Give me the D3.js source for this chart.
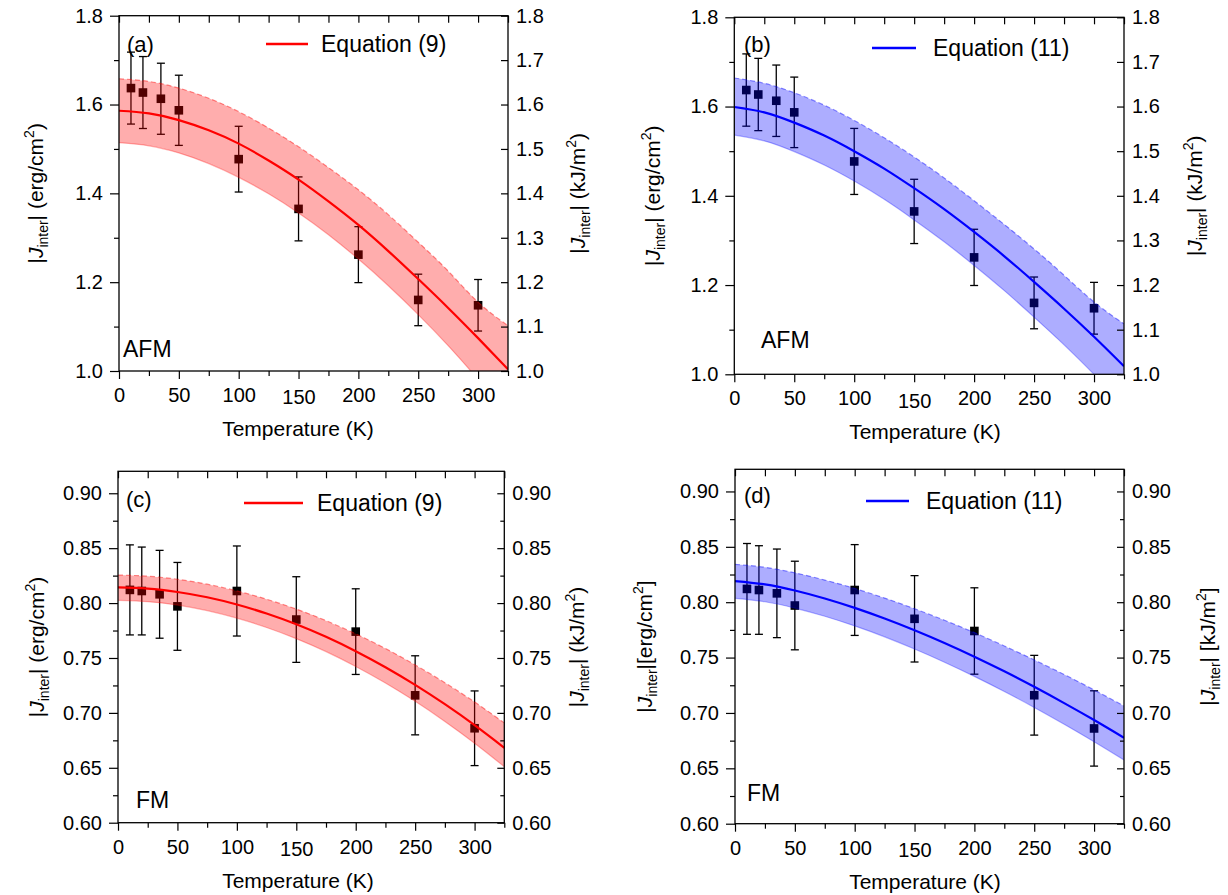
<!DOCTYPE html>
<html>
<head>
<meta charset="utf-8">
<script src="https://cdn.jsdelivr.net/npm/d3@7"></script>
<style>
  body { margin: 0; background: #fff; }
  svg { display: block; font-family: "Liberation Sans", Arial, Helvetica, sans-serif; }
</style>
</head>
<body>
<svg id="chart" width="1228" height="895"></svg>
<script>
// measured points (same set is plotted in a/b and in c/d)
const temps = [10, 20, 35, 50, 100, 150, 200, 250, 300]
const afmJ = [1.637, 1.627, 1.613, 1.587, 1.477, 1.365, 1.262, 1.160, 1.148]
const afmErr = [0.081, 0.081, 0.080, 0.079, 0.074, 0.072, 0.063, 0.058, 0.058]
const fmJ = [0.812, 0.811, 0.808, 0.797, 0.811, 0.785, 0.774, 0.716, 0.686]
const fmErr = [0.041, 0.040, 0.040, 0.040, 0.041, 0.039, 0.039, 0.036, 0.034]

// fitted curves
const curveT = [0, 25, 50, 75, 100, 125, 150, 175, 200, 225, 250, 275, 300, 325]
const fitA = [1.586, 1.580, 1.565, 1.542, 1.512, 1.474, 1.431, 1.382, 1.329, 1.270, 1.207, 1.142, 1.074, 1.004]
const upperA = [1.658, 1.652, 1.637, 1.614, 1.584, 1.547, 1.505, 1.458, 1.408, 1.352, 1.290, 1.225, 1.155, 1.102]
const lowerA = [1.514, 1.507, 1.491, 1.467, 1.436, 1.399, 1.356, 1.307, 1.252, 1.192, 1.127, 1.057, 0.981, 0.902]
const fitB = [1.599, 1.587, 1.564, 1.535, 1.500, 1.461, 1.417, 1.370, 1.319, 1.265, 1.207, 1.147, 1.084, 1.018]
const upperB = [1.664, 1.652, 1.631, 1.603, 1.569, 1.530, 1.487, 1.440, 1.389, 1.336, 1.281, 1.222, 1.162, 1.113]
const lowerB = [1.536, 1.523, 1.499, 1.469, 1.433, 1.392, 1.346, 1.297, 1.244, 1.188, 1.128, 1.066, 1.000, 0.932]
const fitC = [0.8143, 0.8132, 0.8101, 0.8053, 0.7987, 0.7905, 0.7807, 0.7693, 0.7562, 0.7416, 0.7255, 0.7079, 0.6888, 0.6682]
const upperC = [0.8255, 0.8245, 0.8217, 0.8172, 0.8111, 0.8035, 0.7945, 0.7840, 0.7720, 0.7586, 0.7437, 0.7275, 0.7099, 0.6909]
const lowerC = [0.8025, 0.8013, 0.7982, 0.7932, 0.7863, 0.7778, 0.7676, 0.7558, 0.7423, 0.7272, 0.7105, 0.6922, 0.6724, 0.6510]
const fitD = [0.8191, 0.8161, 0.8106, 0.8034, 0.7949, 0.7853, 0.7747, 0.7632, 0.7508, 0.7376, 0.7236, 0.7089, 0.6936, 0.6776]
const upperD = [0.8342, 0.8315, 0.8265, 0.8200, 0.8124, 0.8037, 0.7941, 0.7837, 0.7725, 0.7605, 0.7479, 0.7347, 0.7208, 0.7063]
const lowerD = [0.8035, 0.8004, 0.7947, 0.7873, 0.7786, 0.7687, 0.7577, 0.7458, 0.7330, 0.7194, 0.7050, 0.6898, 0.6740, 0.6575]

// ticks
const tempMajor = [0, 50, 100, 150, 200, 250, 300]
const tempMinor = [25, 75, 125, 175, 225, 275, 325]
const tempTop = [0, 25, 50, 75, 100, 125, 150, 175, 200, 225, 250, 275, 300, 325]
const afmLeftTicks = [1.0, 1.2, 1.4, 1.6, 1.8]
const afmLeftMinor = [1.1, 1.3, 1.5, 1.7]
const afmRightTicks = [1.0, 1.1, 1.2, 1.3, 1.4, 1.5, 1.6, 1.7, 1.8]
const fmTicks = [0.60, 0.65, 0.70, 0.75, 0.80, 0.85, 0.90]
const fmMinor = [0.625, 0.675, 0.725, 0.775, 0.825, 0.875]

const svg = d3.select('#chart')

const panels = [
    {
        id: 'a', box: { l: 119, r: 508, t: 15.7, b: 371 }, yDom: [1.0, 1.8],
        left: afmLeftTicks, leftMinor: afmLeftMinor, right: afmRightTicks, rightMinor: [], fmt: '.1f',
        J: afmJ, err: afmErr, fit: fitA, up: upperA, lo: lowerA, color: '#ff0000', band: '#ff0000',
        letter: '(a)', letterPos: [127, 52], eq: 'Equation (9)', legY: 44, legX: [266, 308], legText: [321, 52],
        tag: 'AFM', tagPos: [123, 357], xTitle: 298,
        lTitle: { x: 43, unit: ' (erg/cm', close: ')' }, rTitle: { x: 585, unit: ' (kJ/m', close: ')' },
    },
    {
        id: 'b', box: { l: 734.3, r: 1124, t: 17.3, b: 374.3 }, yDom: [1.0, 1.8],
        left: afmLeftTicks, leftMinor: afmLeftMinor, right: afmRightTicks, rightMinor: [], fmt: '.1f',
        J: afmJ, err: afmErr, fit: fitB, up: upperB, lo: lowerB, color: '#0000ff', band: '#0000ff',
        letter: '(b)', letterPos: [744, 52], eq: 'Equation (11)', legY: 48, legX: [872, 916], legText: [933, 56],
        tag: 'AFM', tagPos: [761, 348], xTitle: 925,
        lTitle: { x: 660, unit: ' (erg/cm', close: ')' }, rTitle: { x: 1202, unit: ' (kJ/m', close: ')' },
    },
    {
        id: 'c', box: { l: 118, r: 504.3, t: 471.3, b: 822.7 }, yDom: [0.60, 0.92],
        left: fmTicks, leftMinor: fmMinor, right: fmTicks, rightMinor: fmMinor, fmt: '.2f',
        J: fmJ, err: fmErr, fit: fitC, up: upperC, lo: lowerC, color: '#ff0000', band: '#ff0000',
        letter: '(c)', letterPos: [126, 507], eq: 'Equation (9)', legY: 503, legX: [244, 303], legText: [317, 511],
        tag: 'FM', tagPos: [136, 808], xTitle: 298,
        lTitle: { x: 44, unit: ' (erg/cm', close: ')' }, rTitle: { x: 584, unit: ' (kJ/m', close: ')' },
    },
    {
        id: 'd', box: { l: 735, r: 1124, t: 469.3, b: 823.7 }, yDom: [0.60, 0.92],
        left: fmTicks, leftMinor: fmMinor, right: fmTicks, rightMinor: fmMinor, fmt: '.2f',
        J: fmJ, err: fmErr, fit: fitD, up: upperD, lo: lowerD, color: '#0000ff', band: '#0000ff',
        letter: '(d)', letterPos: [744, 503], eq: 'Equation (11)', legY: 501, legX: [866, 909], legText: [926, 509],
        tag: 'FM', tagPos: [747, 801], xTitle: 925,
        lTitle: { x: 652, unit: '[erg/cm', close: ']' }, rTitle: { x: 1215, unit: ' [kJ/m', close: ']' },
    },
]

// |J_inter| (unit²) rotated title
function yTitle(g, x, yc, t) {
    const text = g.append('text')
        .attr('transform', `translate(${x},${yc}) rotate(-90)`)
        .attr('text-anchor', 'middle')
        .attr('font-size', 21)
    text.append('tspan').text('|')
    text.append('tspan').attr('font-style', 'italic').text('J')
    text.append('tspan').attr('font-size', 14).attr('dy', 5).text('inter')
    text.append('tspan').attr('dy', -5).text('|' + t.unit)
    text.append('tspan').attr('font-size', 14).attr('dy', -9).text('2')
    text.append('tspan').attr('dy', 9).text(t.close)
}

function styleAxis(g) {
    g.select('.domain').remove()
    g.selectAll('.tick line').attr('stroke', '#000').attr('stroke-width', 1.2)
    g.selectAll('.tick text').attr('font-size', 20).attr('fill', '#000')
        .attr('font-family', '"Liberation Sans", Arial, Helvetica, sans-serif')
}

panels.forEach((p) => {
    const { box } = p
    const g = svg.append('g').attr('class', `panel-${p.id}`)
    const x = d3.scaleLinear().domain([0, 325]).range([box.l, box.r])
    const y = d3.scaleLinear().domain(p.yDom).range([box.b, box.t])
    const fmt = d3.format(p.fmt)

    g.append('clipPath').attr('id', `clip-${p.id}`)
        .append('rect')
        .attr('x', box.l).attr('y', box.t)
        .attr('width', box.r - box.l).attr('height', box.b - box.t)

    // data points with error bars
    const pts = g.append('g')
    temps.forEach((T, i) => {
        const cx = x(T)
        const yt = y(p.J[i] + p.err[i])
        const yb = y(p.J[i] - p.err[i])
        pts.append('line').attr('x1', cx).attr('x2', cx).attr('y1', yt).attr('y2', yb)
            .attr('stroke', '#000').attr('stroke-width', 1.3)
        ;[yt, yb].forEach((yy) => {
            pts.append('line').attr('x1', cx - 4).attr('x2', cx + 4).attr('y1', yy).attr('y2', yy)
                .attr('stroke', '#000').attr('stroke-width', 1.3)
        })
        pts.append('rect').attr('x', cx - 4.3).attr('y', y(p.J[i]) - 4.3)
            .attr('width', 8.6).attr('height', 8.6).attr('fill', '#000')
    })

    // uncertainty band drawn over the points
    const rows = curveT.map((T, i) => ({ T, f: p.fit[i], u: p.up[i], l: p.lo[i] }))
    const plot = g.append('g').attr('clip-path', `url(#clip-${p.id})`)
    plot.append('path').datum(rows)
        .attr('d', d3.area().curve(d3.curveNatural).x(d => x(d.T)).y0(d => y(d.l)).y1(d => y(d.u)))
        .attr('fill', p.band).attr('fill-opacity', 0.32)
    plot.append('path').datum(rows)
        .attr('d', d3.line().curve(d3.curveNatural).x(d => x(d.T)).y(d => y(d.u)))
        .attr('fill', 'none').attr('stroke', p.band).attr('stroke-opacity', 0.45)
        .attr('stroke-width', 1.2).attr('stroke-dasharray', '5,3')
    plot.append('path').datum(rows)
        .attr('d', d3.line().curve(d3.curveNatural).x(d => x(d.T)).y(d => y(d.l)))
        .attr('fill', 'none').attr('stroke', p.band).attr('stroke-opacity', 0.3).attr('stroke-width', 1.2)
    plot.append('path').datum(rows)
        .attr('d', d3.line().curve(d3.curveNatural).x(d => x(d.T)).y(d => y(d.f)))
        .attr('fill', 'none').attr('stroke', p.color).attr('stroke-width', 2.2)

    // axes
    g.append('g').attr('transform', `translate(0,${box.b})`)
        .call(d3.axisBottom(x).tickValues(tempMajor).tickSize(8).tickPadding(9).tickFormat(d3.format('d')))
        .call(styleAxis)
        .call(a => a.selectAll('.tick text').filter(d => d === 150).attr('dy', '0.82em'))
    g.append('g').attr('transform', `translate(0,${box.b})`)
        .call(d3.axisBottom(x).tickValues(tempMinor).tickSize(5).tickFormat(''))
        .call(styleAxis)
    g.append('g').attr('transform', `translate(0,${box.t})`)
        .call(d3.axisTop(x).tickValues(tempTop).tickSizeInner(-7).tickSizeOuter(0).tickFormat(''))
        .call(styleAxis)
    g.append('g').attr('transform', `translate(${box.l},0)`)
        .call(d3.axisLeft(y).tickValues(p.left).tickSize(9).tickPadding(7).tickFormat(fmt))
        .call(styleAxis)
    g.append('g').attr('transform', `translate(${box.l},0)`)
        .call(d3.axisLeft(y).tickValues(p.leftMinor).tickSize(5).tickFormat(''))
        .call(styleAxis)
    g.append('g').attr('transform', `translate(${box.r},0)`)
        .call(d3.axisRight(y).tickValues(p.right).tickSizeInner(-7).tickSizeOuter(0).tickPadding(8).tickFormat(fmt))
        .call(styleAxis)
    g.append('g').attr('transform', `translate(${box.r},0)`)
        .call(d3.axisRight(y).tickValues(p.rightMinor).tickSizeInner(-4).tickSizeOuter(0).tickFormat(''))
        .call(styleAxis)

    g.append('rect')
        .attr('x', box.l).attr('y', box.t)
        .attr('width', box.r - box.l).attr('height', box.b - box.t)
        .attr('fill', 'none').attr('stroke', '#000').attr('stroke-width', 1.3)

    // titles and labels
    g.append('text').attr('x', p.xTitle).attr('y', box.b + 65)
        .attr('text-anchor', 'middle').attr('font-size', 21).text('Temperature (K)')
    const yc = (box.t + box.b) / 2
    yTitle(g, p.lTitle.x, yc, p.lTitle)
    yTitle(g, p.rTitle.x, yc, p.rTitle)

    g.append('text').attr('x', p.letterPos[0]).attr('y', p.letterPos[1])
        .attr('font-size', 22).text(p.letter)
    g.append('text').attr('x', p.tagPos[0]).attr('y', p.tagPos[1])
        .attr('font-size', 23).text(p.tag)
    g.append('line')
        .attr('x1', p.legX[0]).attr('x2', p.legX[1]).attr('y1', p.legY).attr('y2', p.legY)
        .attr('stroke', p.color).attr('stroke-width', 2.5)
    g.append('text').attr('x', p.legText[0]).attr('y', p.legText[1])
        .attr('font-size', 23).text(p.eq)
})
</script>
</body>
</html>
